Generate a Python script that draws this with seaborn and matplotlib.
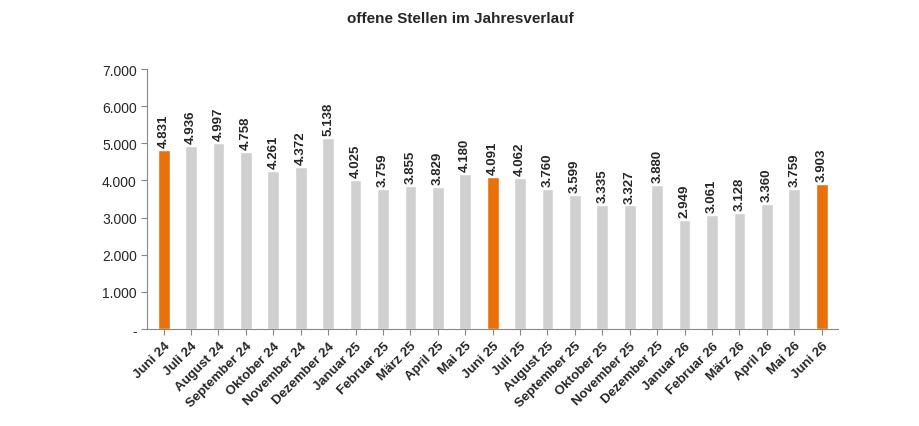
import matplotlib
matplotlib.use("Agg")
import matplotlib.pyplot as plt
import matplotlib.ticker as mticker
import seaborn as sns
import pandas as pd

months = ["Juni 24", "Juli 24", "August 24", "September 24", "Oktober 24", "November 24",
          "Dezember 24", "Januar 25", "Februar 25", "März 25", "April 25", "Mai 25",
          "Juni 25", "Juli 25", "August 25", "September 25", "Oktober 25", "November 25",
          "Dezember 25", "Januar 26", "Februar 26", "März 26", "April 26", "Mai 26", "Juni 26"]
values = [4831, 4936, 4997, 4758, 4261, 4372, 5138, 4025, 3759, 3855, 3829, 4180,
          4091, 4062, 3760, 3599, 3335, 3327, 3880, 2949, 3061, 3128, 3360, 3759, 3903]
highlight = ["Juni 24", "Juni 25", "Juni 26"]

df = pd.DataFrame({"Monat": months, "Stellen": values})
palette = ["#E8710A" if m in highlight else "#D0D0D0" for m in months]

sns.set_style("white")
plt.rcParams["font.family"] = ["Liberation Sans", "DejaVu Sans"]

fig = plt.figure(figsize=(9.2, 4.27), dpi=100)
ax = fig.add_axes([0.16, 0.227, 0.751, 0.609])
sns.barplot(data=df, x="Monat", y="Stellen", hue="Monat", palette=palette,
            legend=False, width=0.43, saturation=1, ax=ax)

def fmt(v, pos):
    if v == 0:
        return "-"
    return f"{int(v):,}".replace(",", ".")

ax.set_ylim(0, 7000)
ax.set_yticks(range(0, 7001, 1000))
ax.yaxis.set_major_formatter(mticker.FuncFormatter(fmt))
ax.set_xlim(-0.6, len(months) - 0.4)
ax.set_xlabel("")
ax.set_ylabel("")
ax.tick_params(axis="y", labelsize=10, length=4, direction="out", left=True, color="#888888")
ax.tick_params(axis="x", length=4, direction="out", bottom=True, color="#888888")
ax.set_xticks(range(len(months)))
ax.set_xticklabels(months, rotation=45, ha="right", rotation_mode="anchor",
                   fontsize=9.5, fontweight="bold")
for s in ["top", "right"]:
    ax.spines[s].set_visible(False)
for s in ["left", "bottom"]:
    ax.spines[s].set_color("#888888")

for i, v in enumerate(values):
    ax.text(i, v + 80, f"{v:,}".replace(",", "."), rotation=90, ha="center",
            va="bottom", fontsize=9.5, fontweight="bold")

fig.text(0.5, 0.955, "offene Stellen im Jahresverlauf", ha="center", va="center",
         fontsize=11, fontweight="bold")

fig.savefig("out.png", dpi=100)
